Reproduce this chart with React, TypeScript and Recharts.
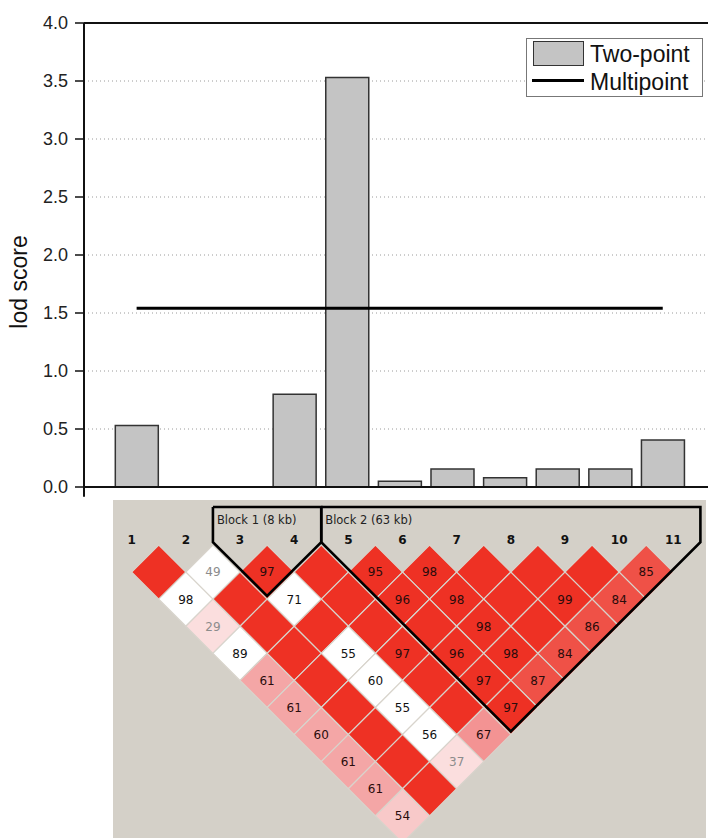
import React from 'react'
import {
  ComposedChart,
  Bar,
  Line,
  XAxis,
  YAxis,
  CartesianGrid,
  Legend,
  ReferenceLine,
  ScatterChart,
  Scatter,
} from 'recharts'

const FONT = '"Liberation Sans", Arial, sans-serif'
const LD_FONT = '"DejaVu Sans", Verdana, sans-serif'

// markers along the region
const markers = [1, 2, 3, 4, 5, 6, 7, 8, 9, 10, 11]
// two-point lod per marker (no bar for markers 2 and 3)
const twoPoint = [0.53, null, null, 0.8, 3.53, 0.05, 0.155, 0.08, 0.155, 0.155, 0.405]
// multipoint lod per marker
const multipoint = [1.54, 1.54, 1.54, 1.54, 1.54, 1.54, 1.54, 1.54, 1.54, 1.54, 1.54]
const lodTicks = [0, 0.5, 1, 1.5, 2, 2.5, 3, 3.5, 4]

// LD cells: [marker a, marker b, D' x100, shade]; 100 is drawn blank
// shades: r red, m light red, k rose, p pink, s pale pink, l faint pink, w white
const ldCells: [number, number, number, string][] = [
  [1, 2, 100, 'r'], [2, 3, 49, 'w'], [3, 4, 97, 'r'], [4, 5, 100, 'r'], [5, 6, 95, 'r'],
  [6, 7, 98, 'r'], [7, 8, 100, 'r'], [8, 9, 100, 'r'], [9, 10, 100, 'r'], [10, 11, 85, 'm'],
  [1, 3, 98, 'w'], [2, 4, 100, 'r'], [3, 5, 71, 'w'], [4, 6, 100, 'r'], [5, 7, 96, 'r'],
  [6, 8, 98, 'r'], [7, 9, 100, 'r'], [8, 10, 99, 'r'], [9, 11, 84, 'm'],
  [1, 4, 29, 'l'], [2, 5, 100, 'r'], [3, 6, 100, 'r'], [4, 7, 100, 'r'], [5, 8, 100, 'r'],
  [6, 9, 98, 'r'], [7, 10, 100, 'r'], [8, 11, 86, 'm'],
  [1, 5, 89, 'w'], [2, 6, 100, 'r'], [3, 7, 55, 'w'], [4, 8, 97, 'r'], [5, 9, 96, 'r'],
  [6, 10, 98, 'r'], [7, 11, 84, 'm'],
  [1, 6, 61, 'p'], [2, 7, 100, 'r'], [3, 8, 60, 'w'], [4, 9, 100, 'r'], [5, 10, 97, 'r'], [6, 11, 87, 'm'],
  [1, 7, 61, 'p'], [2, 8, 100, 'r'], [3, 9, 55, 'w'], [4, 10, 100, 'r'], [5, 11, 97, 'r'],
  [1, 8, 60, 'p'], [2, 9, 100, 'r'], [3, 10, 56, 'w'], [4, 11, 67, 'k'],
  [1, 9, 61, 'p'], [2, 10, 100, 'r'], [3, 11, 37, 'l'],
  [1, 10, 61, 'p'], [2, 11, 100, 'r'],
  [1, 11, 54, 's'],
]
// cells whose number is printed in grey
const dimCells = ['2-3', '1-4', '3-11']

const blocks = [
  { name: 'Block 1 (8 kb)', first: 3, last: 4 },
  { name: 'Block 2 (63 kb)', first: 5, last: 11 },
]

const shadeColors: Record<string, string> = {
  r: '#ee3124',
  m: '#ef5147',
  k: '#f39393',
  p: '#f4a6a6',
  s: '#f8c9c9',
  l: '#fbdede',
  w: '#ffffff',
}

const lodData = markers.map((m, i) => ({ marker: m, twoPoint: twoPoint[i], multipoint: multipoint[i] }))

const ldData = ldCells.map(([a, b, d, shade]) => ({
  x: (a + b) / 2,
  depth: b - a,
  dprime: d,
  shade,
  dim: dimCells.includes(`${a}-${b}`),
}))

// block outline: frame above the marker row, then down around the block's triangle
function blockOutline(name: string, first: number, last: number) {
  const left = first - 0.5
  const right = last + 0.5
  const top = -1.4
  const corner = -0.1
  const bottom = last - first + 1 - 0.12
  return [
    { x: left, depth: top, label: name },
    { x: left, depth: corner },
    { x: (first + last) / 2, depth: bottom },
    { x: right, depth: corner },
    { x: right, depth: top },
    { x: left, depth: top },
  ]
}

const LD_W = 708
const LD_H = 860
const LD_MARGIN = { top: 500.1, right: 7.6, bottom: 17.1, left: 104.6 }
const X_DOMAIN: [number, number] = [0.5, 11.5]
const Y_DOMAIN: [number, number] = [-1.62, 11]
const HALF = (LD_W - LD_MARGIN.left - LD_MARGIN.right) / (X_DOMAIN[1] - X_DOMAIN[0]) / 2

function LodLegend() {
  return (
    <div
      style={{
        position: 'relative',
        width: 175,
        height: 57,
        border: '1px solid #777',
        background: '#fff',
        fontFamily: FONT,
        fontSize: 23,
        lineHeight: '23px',
        color: '#111',
      }}
    >
      <div style={{ position: 'absolute', left: 6, top: 2, width: 49, height: 23, background: '#c4c4c4', border: '1.5px solid #333' }} />
      <div style={{ position: 'absolute', left: 5, top: 40, width: 52, height: 3, background: '#000' }} />
      <div style={{ position: 'absolute', left: 63, top: 3.5 }}>Two-point</div>
      <div style={{ position: 'absolute', left: 63, top: 31.5 }}>Multipoint</div>
    </div>
  )
}

function MarkerTick(props: any) {
  const { x, y, payload } = props
  return (
    <text x={x} y={y + 43} textAnchor="middle" fontFamily={LD_FONT} fontWeight="bold" fontSize={12} fill="#111">
      {payload.value}
    </text>
  )
}

function LdDiamond(props: any) {
  const { cx, cy, payload } = props
  const pts = `${cx},${cy - HALF} ${cx + HALF},${cy} ${cx},${cy + HALF} ${cx - HALF},${cy}`
  const textFill = payload.dim ? '#8c8c8c' : payload.shade === 'w' ? '#111' : '#2a0c0c'
  return (
    <g>
      <polygon points={pts} fill={shadeColors[payload.shade]} stroke="#d8d4cc" strokeWidth={1.2} />
      {payload.dprime < 100 && (
        <text x={cx} y={cy + 4.4} textAnchor="middle" fontFamily={LD_FONT} fontSize={12} fill={textFill}>
          {payload.dprime}
        </text>
      )}
    </g>
  )
}

function BlockCorner(props: any) {
  const { cx, cy, payload } = props
  if (!payload.label) return <g />
  return (
    <text x={cx + 4} y={cy + 17} fontFamily={LD_FONT} fontSize={11.5} fill="#222">
      {payload.label}
    </text>
  )
}

export default function App() {
  return (
    <div style={{ position: 'absolute', left: 0, top: 0, width: 708, height: 838, overflow: 'hidden', background: '#fff' }}>
      <div style={{ position: 'absolute', left: 0, top: 0 }}>
        <ComposedChart width={708} height={497} data={lodData} margin={{ top: 23, right: 0, bottom: 9, left: 0 }}>
          <CartesianGrid vertical={false} stroke="#9a9a9a" strokeDasharray="1 3" />
          <XAxis
            type="number"
            dataKey="marker"
            domain={[0, 11.86]}
            ticks={markers}
            tick={false}
            tickLine={false}
            height={1}
            axisLine={{ stroke: '#111', strokeWidth: 2 }}
          />
          <YAxis
            domain={[0, 4]}
            ticks={lodTicks}
            interval={0}
            width={84}
            tickFormatter={(v: number) => v.toFixed(1)}
            tick={{ fontSize: 18, fill: '#222', fontFamily: FONT }}
            tickSize={9}
            tickMargin={7}
            tickLine={{ stroke: '#111', strokeWidth: 1.5 }}
            axisLine={{ stroke: '#111', strokeWidth: 2 }}
            label={() => (
              <text
                x={27}
                y={282}
                transform="rotate(-90 27 282)"
                textAnchor="middle"
                fontFamily={FONT}
                fontSize={23}
                fill="#111"
              >
                lod score
              </text>
            )}
          />
          <ReferenceLine y={4} stroke="#111" strokeWidth={2} />
          <ReferenceLine
            segment={[{ x: 0, y: 0 }, { x: 0, y: -0.085 }]}
            ifOverflow="visible"
            stroke="#111"
            strokeWidth={2}
          />
          <Bar dataKey="twoPoint" barSize={43} fill="#c4c4c4" stroke="#333" strokeWidth={1.5} isAnimationActive={false} />
          <Line dataKey="multipoint" stroke="#000" strokeWidth={3} dot={false} isAnimationActive={false} />
          <Legend
            layout="horizontal"
            verticalAlign="middle"
            align="center"
            content={() => <LodLegend />}
            wrapperStyle={{ left: 526, top: 38, width: 177 }}
          />
        </ComposedChart>
      </div>
      <div style={{ position: 'absolute', left: 113, top: 500, width: 593, height: 338, background: '#d4d0c8' }} />
      <div style={{ position: 'absolute', left: 0, top: 0 }}>
        <ScatterChart width={LD_W} height={LD_H} margin={LD_MARGIN}>
          <XAxis
            type="number"
            dataKey="x"
            orientation="top"
            domain={X_DOMAIN}
            ticks={markers}
            interval={0}
            height={1}
            tickSize={0}
            tickMargin={0}
            axisLine={false}
            tick={(p: any) => <MarkerTick {...p} />}
          />
          <YAxis type="number" dataKey="depth" domain={Y_DOMAIN} reversed hide width={0} />
          <Scatter data={ldData} shape={(p: any) => <LdDiamond {...p} />} isAnimationActive={false} />
          {blocks.map((b) => (
            <Scatter
              key={b.name}
              data={blockOutline(b.name, b.first, b.last)}
              shape={(p: any) => <BlockCorner {...p} />}
              line={{ stroke: '#000', strokeWidth: 2.6, strokeLinejoin: 'miter' }}
              isAnimationActive={false}
            />
          ))}
        </ScatterChart>
      </div>
    </div>
  )
}
